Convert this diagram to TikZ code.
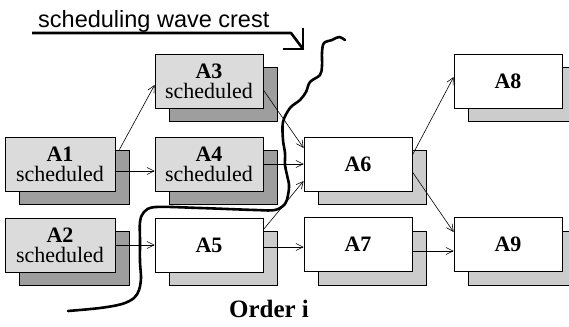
\documentclass[tikz,border=0pt]{standalone}
\usepackage{fontspec}
\setmainfont{Liberation Serif}
\newfontfamily\titlefont{Liberation Sans}
\usetikzlibrary{arrows.meta,calc}
\definecolor{frontdot}{gray}{0.86}
\definecolor{shaddense}{gray}{0.62}
\definecolor{shadlight}{gray}{0.8}
\tikzset{
  box/.style={draw=black,line width=0.8pt,rectangle,minimum width=108pt,minimum height=54pt,inner sep=0pt,align=center,
    font=\fontsize{22}{20}\selectfont},
  wide/.style={minimum width=110pt},
  schedfront/.style={box,fill=frontdot},
  schedshadow/.style={box,fill=shaddense},
  plainfront/.style={box,fill=white},
  plainshadow/.style={box,fill=shadlight},
  link/.style={line width=0.6pt,-{Straight Barb[length=7pt,width=7pt]}},
  wave/.style={line width=2.6pt,line cap=round,line join=round},
}
\begin{document}
\begin{tikzpicture}[x=1pt,y=-1pt]
\useasboundingbox (0,0) rectangle (569,326);
\clip (0,0) rectangle (569,326);
% shadows
\node[schedshadow,wide] (A1s) at (74,177) {};
\node[schedshadow,wide] (A2s) at (74,258) {};
\node[schedshadow] (A3s) at (223,94) {};
\node[schedshadow] (A4s) at (223,177) {};
\node[plainshadow] (A5s) at (223,258) {};
\node[plainshadow] (A6s) at (372,177) {};
\node[plainshadow] (A7s) at (372,258) {};
\node[plainshadow] (A8s) at (522,94) {};
\node[plainshadow] (A9s) at (522,258) {};
% fronts
\node[schedfront,wide] (A1) at (60,164) {\textbf{A1}\\scheduled};
\node[schedfront,wide] (A2) at (60,245) {\textbf{A2}\\scheduled};
\node[schedfront] (A3) at (209,81) {\textbf{A3}\\scheduled};
\node[schedfront] (A4) at (209,164) {\textbf{A4}\\scheduled};
\node[plainfront] (A5) at (209,245) {\textbf{A5}};
\node[plainfront] (A6) at (358,164) {\textbf{A6}};
\node[plainfront] (A7) at (358,244) {\textbf{A7}};
\node[plainfront] (A8) at (508,81) {\textbf{A8}};
\node[plainfront] (A9) at (508,244) {\textbf{A9}};
% connectors (yshift is in page points: negative = downwards)
\draw[link] ([xshift=-10pt]A1s.north east) -- ([yshift=-4pt]A3.west);
\draw[link] ([yshift=-7pt]A1.east) -- ([yshift=-7pt]A4.west);
\draw[link] (A2.east) -- (A5.west);
\draw[link] ([yshift=-9pt]A3.east) -- ([yshift=16pt]A6.west);
\draw[link] (A4.east) -- (A6.west);
\draw[link] ([yshift=-12pt]A5.north east) -- ([yshift=-17pt]A6.west);
\draw[link] ([yshift=-2pt]A5.east) -- ([yshift=-3pt]A7.west);
\draw[link] ([yshift=9pt]A6.east) -- ([yshift=4pt]A8.west);
\draw[link] ([yshift=-8pt]A6.east) -- ([yshift=12pt]A9.west);
\draw[link] ([yshift=-7pt]A7.east) -- ([yshift=-7pt]A9.west);
% wave crest
\draw[wave] plot[smooth,tension=0.55] coordinates {
 (68,311) (100,308) (122,304) (134,298) (139,290) (141,278) (140,262) (140,240) (140,222)
 (144,212) (156,207) (200,208) (255,210) (275,210) (285,204) (288,195) (289,185) (287,175)
 (285,165) (285,153) (283,140) (283,122) (290,108) (300,100) (306,92) (310,82) (320,75)
 (322,66) (322,52) (324,43) (332,40) (339,37) (345,40)};
% title with arrow
\node[anchor=base west,inner sep=0pt,font=\titlefont\fontsize{23.5}{26}\selectfont] (title) at (38,28) {scheduling wave crest};
\coordinate (ulstart) at (32,33);
\coordinate (ulbend) at (291,33);
\coordinate (ultip) at (303,49);
\draw[wave,line cap=butt] (ulstart) -- (ulbend) -- (ultip);
\draw[wave,line cap=butt,line join=miter] ([yshift=21pt]ultip) -- (ultip) -- ([xshift=-20pt]ultip);
% bottom label
\node[anchor=base,inner sep=0pt,font=\bfseries\fontsize{25}{27}\selectfont] (order) at (269,317) {Order i};
\end{tikzpicture}
\end{document}
